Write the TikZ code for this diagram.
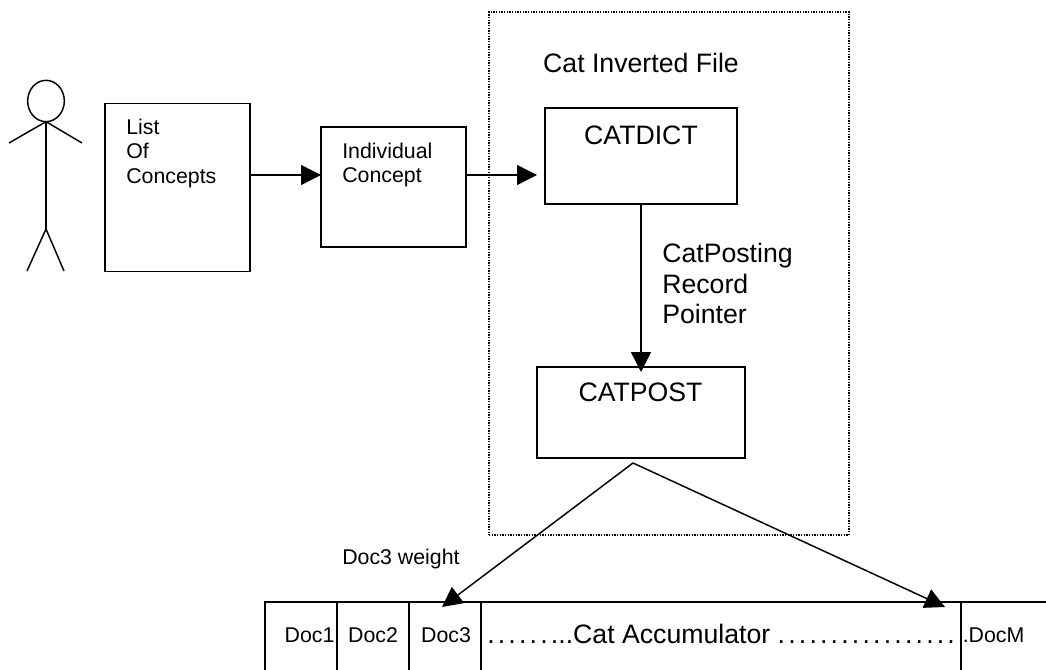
\documentclass[tikz,border=0pt]{standalone}
\usepackage{fontspec}
\setmainfont{Liberation Sans}
\usetikzlibrary{arrows.meta, shapes.geometric, positioning}
\tikzset{
    block/.style={rectangle, draw, line width=1.1pt, inner sep=0pt, outer sep=0pt},
    cell/.style={block, minimum height=58.5pt},
    bigText/.style={font=\fontsize{20}{23}\selectfont, inner sep=0pt, align=left},
    midText/.style={font=\fontsize{16}{18.2}\selectfont, inner sep=0pt, align=left},
    limb/.style={line width=1.1pt},
    dataEdge/.style={-{Triangle[length=15pt, width=15pt]}, line width=1.1pt},
}
\newcommand{\drawLink}[3][dataEdge]{
    \draw[#1] (#2) -- (#3);
}
\newcommand{\dotRun}[1]{\foreach \i in {1,...,#1}{.\hspace{2.4pt}}}
\begin{document}
\begin{tikzpicture}[x=0.75pt, y=-0.75pt]
        \useasboundingbox (0,0) rectangle (1046,670);
        \clip (0,0) rectangle (1046,670);

        % stick figure
        \node[draw, line width=1.1pt, ellipse, minimum width=27.5pt, minimum height=31pt, inner sep=0pt, outer sep=0pt] (head) at (46,101) {};
        \coordinate (hip) at (46,229);
        \coordinate (armL) at (9,143);
        \coordinate (armR) at (82,143);
        \coordinate (legL) at (27,271);
        \coordinate (legR) at (64,271);
        \drawLink[limb]{head.south}{hip}
        \drawLink[limb]{head.south}{armL}
        \drawLink[limb]{head.south}{armR}
        \drawLink[limb]{hip}{legL}
        \drawLink[limb]{hip}{legR}

        % dictionary side
        \node[block, minimum width=108.75pt, minimum height=126pt] (list) at (177.5,187.5) {};
        \node[block, minimum width=108.75pt, minimum height=90pt] (concept) at (393.5,187) {};
        \node[rectangle, draw, line width=1.1pt, dash pattern=on 1pt off 1pt, inner sep=0pt, outer sep=0pt, minimum width=270pt, minimum height=392.25pt] (invfile) at (669,273.5) {};
        \node[block, minimum width=144pt, minimum height=72pt] (catdict) at (641,156) {};
        \node[block, minimum width=156pt, minimum height=68.25pt] (catpost) at (641,412.5) {};

        \node[midText, anchor=north west] (listLbl) at (126,119) {List\\Of\\Concepts};
        \node[midText, anchor=north west] (conceptLbl) at (342,143) {Individual\\Concept};
        \node[bigText] (invLbl) at (641,63) {Cat Inverted File};
        \node[bigText] (dictLbl) at (641,135) {CATDICT};
        \node[bigText] (postLbl) at (640.5,392) {CATPOST};
        \node[bigText, anchor=north west] (ptrLbl) at (662,243) {CatPosting\\Record\\Pointer};
        \node[midText, anchor=west] (weightLbl) at (342,559) {Doc3 weight};

        % accumulator row, runs off the page
        \node[cell, minimum width=54pt, anchor=north west] (doc1) at (265,602) {};
        \node[cell, minimum width=54pt, anchor=north west] (doc2) at (337,602) {};
        \node[cell, minimum width=54pt, anchor=north west] (doc3) at (409,602) {};
        \node[cell, minimum width=360pt, anchor=north west] (accum) at (481,602) {};
        \node[cell, minimum width=90pt, anchor=north west] (docm) at (961,602) {};

        \node[midText] (doc1Lbl) at (309.5,635) {Doc1};
        \node[midText] (doc2Lbl) at (373,635) {Doc2};
        \node[midText] (doc3Lbl) at (446,635) {Doc3};
        \node[bigText, anchor=west] (accumLbl) at (487,634) {\dotRun{6}...Cat Accumulator \dotRun{17}};
        \node[midText, anchor=west] (docmLbl) at (962.5,635) {.DocM};

        \coordinate (postTip) at (633,463);
        \coordinate (postTop) at (641,372);
        \coordinate (doc3Top) at (442,607);
        \coordinate (docmTop) at (945,607);

        \draw[dataEdge] (list.east |- 0,175) -- (concept.west |- 0,175);
        \draw[dataEdge, shorten >=6pt] (concept.east |- 0,175) -- (catdict.west |- 0,175);
        \drawLink{catdict.south}{postTop}
        \drawLink{postTip}{doc3Top}
        \drawLink{postTip}{docmTop}

    \end{tikzpicture}
\end{document}
